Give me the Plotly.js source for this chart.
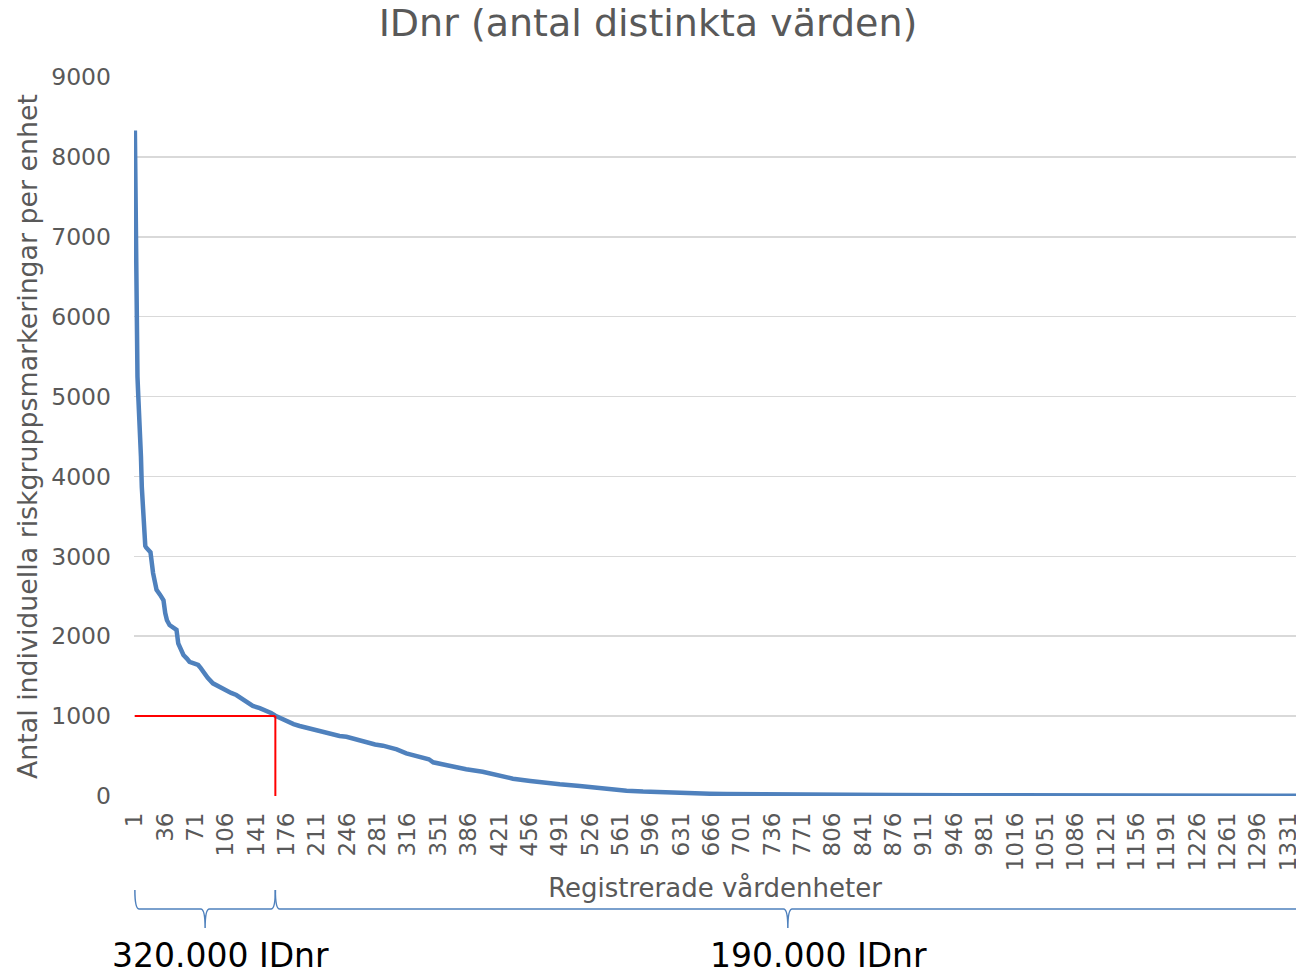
<!DOCTYPE html>
<html>
<head>
<meta charset="utf-8">
<script src="https://cdn.plot.ly/plotly-3.0.1.min.js"></script>
<style>html,body{margin:0;padding:0;background:#fff;}#chart{width:1296px;height:980px;}</style>
</head>
<body>
<div id="chart"></div>
<script>
// Rank of the registered care unit (x) and number of distinct IDnr per unit (y)
const ranks = [1,2,3,4,5,6,7,8,9,10,11,12,13,14,16,19,22,26,30,34,36,38,41,45,49,51,54,57,61,64,69,74,77,80,85,91,98,107,112,118,124,130,137,145,153,158,163,170,176,184,191,200,207,214,222,230,237,245,256,268,278,287,295,303,314,323,333,340,345,356,368,383,402,422,437,457,476,491,514,529,548,568,587,606,625,645,664,683,720,760,800,875,952,1030,1114,1200,1280,1340];
const counts = [8330,6900,5420,5250,4990,4800,4450,4250,3870,3600,3450,3250,3130,3110,3090,3050,2790,2580,2520,2450,2290,2200,2140,2110,2080,1910,1830,1765,1720,1680,1660,1640,1600,1550,1480,1410,1370,1310,1290,1264,1220,1180,1127,1100,1068,1040,1005,965,935,900,876,850,830,805,780,760,751,742,710,667,645,630,610,584,534,510,484,460,422,395,367,334,304,250,217,188,159,146,125,105,85,67,55,46,39,33,29,25,20,17,15,13,10,8,6,4,3,2];

const xTickVals = [1,36,71,106,141,176,211,246,281,316,351,386,421,456,491,526,561,596,631,666,701,736,771,806,841,876,911,946,981,1016,1051,1086,1121,1156,1191,1226,1261,1296,1331];
const yTickVals = [0,1000,2000,3000,4000,5000,6000,7000,8000,9000];

// Marker for 1000 IDnr per unit and the rank where the curve crosses it
const thresholdValue = 1000;
const thresholdRank = 163;

// Groups shown by the braces below the axis
const groupStart = [1, 163];
const groupEnd = [163, 1350];
const groupMid = [82, 754];
const groupLabels = ['320.000 IDnr', '190.000 IDnr'];
const groupLabelX = [-0.0207, 0.494];

const FONT = 'Verdana, "DejaVu Sans", sans-serif';
const GREY = '#595959';

const trace = {
  type: 'scatter',
  mode: 'lines',
  x: ranks,
  y: counts,
  line: {color: '#4F81BD', width: 4.5},
  hoverinfo: 'skip',
  showlegend: false
};

const yT = -0.1307, yM = -0.1572, yB = -0.1836, d = 5;
function bracePath(x0, x1, xm) {
  return `M ${x0},${yT} Q ${x0},${yM} ${x0 + d},${yM} L ${xm - d},${yM} Q ${xm},${yM} ${xm},${yB} ` +
         `Q ${xm},${yM} ${xm + d},${yM} L ${x1 - d},${yM} Q ${x1},${yM} ${x1},${yT}`;
}

const shapes = [
  {type: 'line', xref: 'x', yref: 'y', x0: 1, x1: thresholdRank, y0: thresholdValue, y1: thresholdValue,
   line: {color: '#FF0000', width: 2}},
  {type: 'line', xref: 'x', yref: 'y', x0: thresholdRank, x1: thresholdRank, y0: 0, y1: thresholdValue,
   line: {color: '#FF0000', width: 2}}
];
for (let i = 0; i < groupStart.length; i++) {
  shapes.push({type: 'path', xref: 'x', yref: 'paper', path: bracePath(groupStart[i], groupEnd[i], groupMid[i]),
    line: {color: '#4F81BD', width: 1.5}});
}

const annotations = groupLabels.map((t, i) => ({
  text: t, xref: 'paper', yref: 'paper', x: groupLabelX[i], y: -0.2225,
  xanchor: 'left', yanchor: 'middle', showarrow: false,
  font: {family: FONT, size: 33, color: '#000000'}
}));

const layout = {
  width: 1296, height: 980,
  margin: {l: 134, r: 0, t: 77, b: 184},
  paper_bgcolor: '#ffffff', plot_bgcolor: '#ffffff',
  font: {family: FONT, color: GREY},
  title: {text: 'IDnr (antal distinkta värden)', font: {family: FONT, size: 38, color: GREY},
          x: 0.5, xref: 'container', y: 1 - 23 / 980, yref: 'container', yanchor: 'middle'},
  xaxis: {
    range: [0, 1340], tickmode: 'array', tickvals: xTickVals, ticktext: xTickVals.map(String),
    tickangle: -90, tickfont: {family: FONT, size: 23, color: GREY}, ticks: '', ticklabelstandoff: 11,
    ticklabeloverflow: 'allow',
    showgrid: false, zeroline: false, showline: false,
    title: {text: 'Registrerade vårdenheter', font: {family: FONT, size: 26, color: GREY}, standoff: 8}
  },
  yaxis: {
    range: [0, 9000], tickmode: 'array', tickvals: yTickVals,
    tickfont: {family: FONT, size: 23.5, color: GREY}, ticks: '', ticklabelstandoff: 22,
    showgrid: true, gridcolor: '#D9D9D9', gridwidth: 1.5, zeroline: false, showline: false,
    title: {text: 'Antal individuella riskgruppsmarkeringar per enhet', font: {family: FONT, size: 26.8, color: GREY}, standoff: 5}
  },
  shapes: shapes,
  annotations: annotations,
  showlegend: false
};

Plotly.newPlot('chart', [trace], layout, {staticPlot: true, displayModeBar: false});
</script>
</body>
</html>
